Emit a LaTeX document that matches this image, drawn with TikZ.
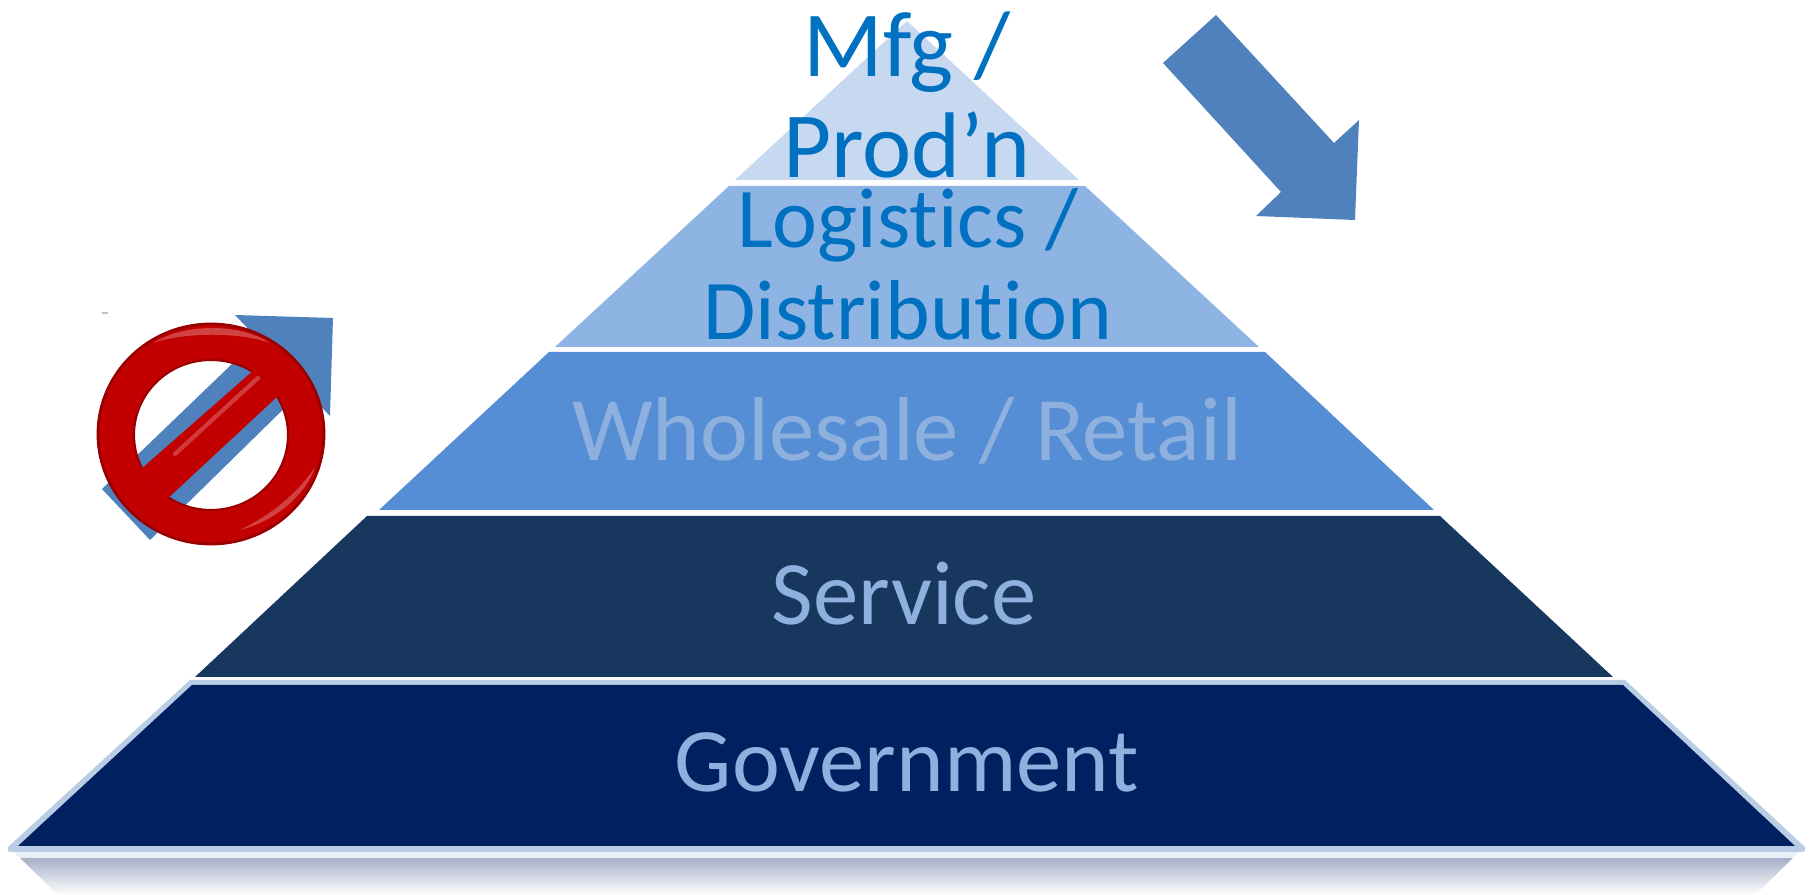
\documentclass[tikz,border=0pt]{standalone}
\usepackage{fontspec}
\setmainfont{Carlito}[Ligatures=NoCommon]
\definecolor{topblue}{HTML}{C6D9F1}
\definecolor{logblue}{HTML}{8EB4E3}
\definecolor{saleblue}{HTML}{558ED5}
\definecolor{servblue}{HTML}{17375E}
\definecolor{govblue}{HTML}{002060}
\definecolor{rimblue}{HTML}{B9CDE5}
\definecolor{arrowblue}{HTML}{4F81BD}
\definecolor{textblue}{HTML}{0070C0}
\definecolor{paleblue}{HTML}{8EB0DE}
\definecolor{signred}{HTML}{C20000}
\tikzset{
    layertext/.style 2 args={font=\fontsize{#1}{#2}\selectfont, align=center, inner sep=0pt},
    darktext/.style 2 args={layertext={#1}{#2}, text=textblue},
    palettext/.style={layertext={25.8}{29}, text=paleblue},
    gloss/.style={fill=signred!65!white, opacity=0.75},
}

\begin{document}
\begin{tikzpicture}[x=0.01cm, y=-0.01cm]
    \useasboundingbox (0,0) rectangle (1811,895);

    % Reflection under the base
    \shade[top color=govblue!35!white, bottom color=white] (20,858) -- (1793,858) -- (1755,895) -- (58,895) -- cycle;
    \fill[rimblue!30!white] (14,852) -- (1799,852) -- (1793,858) -- (20,858) -- cycle;

    % Define layers
    \fill[topblue] (907,21) -- (1079,180) -- (735,180) -- cycle;
    \fill[logblue] (729,186) -- (1085,186) -- (1259,347) -- (555,347) -- cycle;
    \fill[saleblue] (549,352) -- (1265,352) -- (1434,510) -- (379,510) -- cycle;
    \fill[servblue] (367,516) -- (1440,516) -- (1613,677) -- (195,677) -- cycle;
    \fill[rimblue] (190,680) -- (1625,680) -- (1805,847) -- (1805,851) -- (1803,852) -- (10,852) -- (8,851) -- (8,847) -- cycle;
    \fill[govblue] (192,685) -- (1623,685) -- (1795,846) -- (18,846) -- cycle;

    % Define labels
    \node [darktext={26.5}{28.7}] (Mfg) at (907,95) {Mfg /\\Prod’n};
    \node [darktext={24.2}{26.2}] (Logistics) at (908,264) {Logistics /\\Distribution};
    \node [palettext] (Wholesale) at (907,431) {Wholesale / Retail};
    \node [palettext] (Service) at (904,594) {Service};
    \node [palettext] (Government) at (907,762) {Government};

    % Arrows at the side of the pyramid
    \fill[arrowblue] (1216,15) -- (1334,143) -- (1359,120) -- (1355,220) -- (1256,216) -- (1281,192) -- (1163,63) -- cycle;
    \fill[arrowblue] (102,489) -- (258,339) -- (235,315) -- (333,318) -- (330,416) -- (304,389) -- (150,540) -- cycle;
    \draw[gray!50, line width=0.4pt] (102,313) -- (108,313);

    % Stop sign over the left arrow
    \fill[signred, even odd rule] (211,434) ellipse [x radius=114, y radius=111] (211,435) ellipse [x radius=77, y radius=75];
    \draw[red!60!black, line width=0.8pt] (211,434) ellipse [x radius=113, y radius=110];
    \draw[red!60!black, line width=0.6pt] (211,435) ellipse [x radius=77, y radius=75];
    \shade[shading angle=135, left color=signred, middle color=red!95!black, right color=signred] (140,470) -- (254,370) -- (279,395) -- (166,500) -- cycle;
    \draw[signred!70!white, line width=1.2pt, line cap=round, opacity=0.8] (175,454) -- (258,378);
    \fill[gloss] (153,343) .. controls (185,323) and (240,323) .. (270,343) .. controls (240,332) and (185,332) .. (153,343) -- cycle;
    \fill[gloss] (240,530) .. controls (280,520) and (308,490) .. (315,467) .. controls (300,490) and (275,513) .. (240,530) -- cycle;
\end{tikzpicture}
\end{document}
